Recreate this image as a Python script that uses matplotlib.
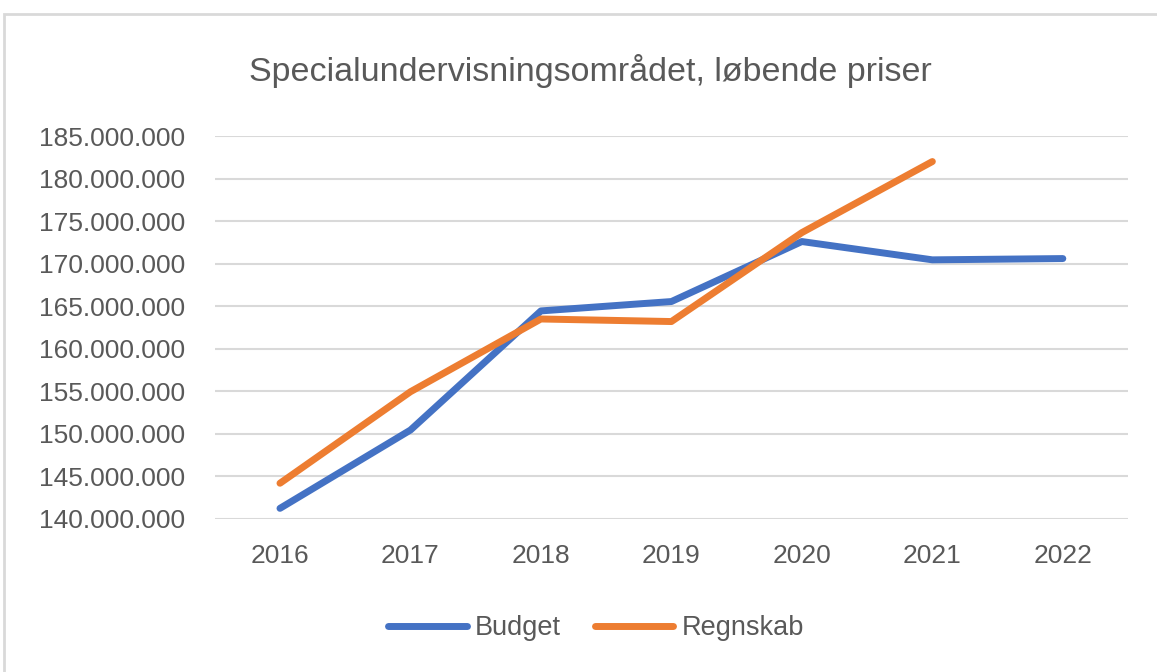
import matplotlib
matplotlib.use("Agg")
import matplotlib.pyplot as plt
from matplotlib.ticker import FuncFormatter, MultipleLocator
from matplotlib.patches import Rectangle

years = ["2016", "2017", "2018", "2019", "2020", "2021", "2022"]
budget = [141.25e6, 150.45e6, 164.45e6, 165.55e6, 172.6e6, 170.45e6, 170.6e6]
regnskab = [144.2e6, 154.95e6, 163.5e6, 163.2e6, 173.65e6, 182.0e6]

BLUE = "#4472C4"
ORANGE = "#ED7D31"
TXT = "#595959"

plt.rcParams["font.family"] = ["Liberation Sans", "DejaVu Sans"]

fig = plt.figure(figsize=(11.57, 6.72), dpi=100)
ax = fig.add_axes([0.1856, 0.2277, 0.7894, 0.5699])

# chart border (Excel-style frame)
fig.patches.append(Rectangle((4 / 1157, -0.1), 1.2, 1 - 14 / 672 + 0.1,
                             transform=fig.transFigure, fill=False,
                             ec="#D9D9D9", lw=2))

x = range(len(years))
ax.plot(list(x), budget, color=BLUE, lw=5, solid_capstyle="round",
        solid_joinstyle="round", label="Budget", zorder=3)
ax.plot(list(x)[:len(regnskab)], regnskab, color=ORANGE, lw=5,
        solid_capstyle="round", solid_joinstyle="round", label="Regnskab", zorder=3)

ax.set_xlim(-0.5, len(years) - 0.5)
ax.set_ylim(140e6, 185e6)
ax.yaxis.set_major_locator(MultipleLocator(5e6))
ax.yaxis.set_major_formatter(FuncFormatter(lambda v, p: f"{v:,.0f}".replace(",", ".")))
ax.set_xticks(list(x))
ax.set_xticklabels(years)
ax.grid(axis="y", color="#D9D9D9", lw=1.5)
ax.set_axisbelow(True)
for s in ax.spines.values():
    s.set_visible(False)
ax.tick_params(length=0, colors=TXT, labelsize=19)
ax.tick_params(axis="y", pad=21.5)
ax.tick_params(axis="x", pad=18)

fig.text(0.51, 0.895, "Specialundervisningsområdet, løbende priser",
         ha="center", va="center", fontsize=24.5, color=TXT)

fig.legend(loc="center", bbox_to_anchor=(0.515, 0.065), ncol=2, frameon=False,
           fontsize=19.5, labelcolor=TXT, handlelength=2.9, handletextpad=0.3,
           columnspacing=1.25)

fig.savefig("out.png", dpi=100)
